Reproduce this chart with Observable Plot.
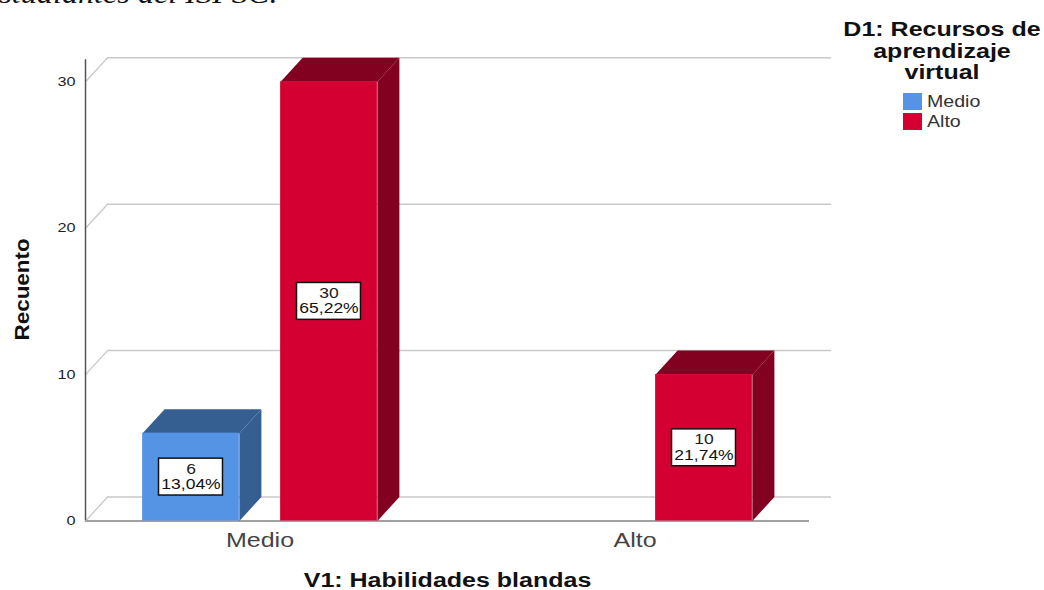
<!DOCTYPE html>
<html><head><meta charset="utf-8">
<script src="https://cdn.jsdelivr.net/npm/d3@7"></script>
<script src="https://cdn.jsdelivr.net/npm/@observablehq/plot@0.6"></script>
<style>
html,body{margin:0;padding:0;background:#fff;overflow:hidden}
#wrap{position:relative;width:1044px;height:590px;overflow:hidden}
#cap{position:absolute;left:-15px;top:-22px;font:italic 28px "Liberation Serif";color:#111;white-space:nowrap;transform:scaleX(1.15);transform-origin:left top}
#leg{position:absolute;left:0;top:0;font-family:"Liberation Sans"}
.lt{position:absolute;left:942px;transform:translateX(-50%) scaleX(1.25);font-weight:bold;font-size:20px;line-height:21px;color:#111;white-space:nowrap}
.li{position:absolute;left:927px;transform:scaleX(1.24);transform-origin:left center;font-size:15.8px;line-height:18px;color:#333;white-space:nowrap}
.sw{position:absolute;left:903px;width:19px;height:17px}
svg text{font-family:"Liberation Sans"}
</style></head><body><div id="wrap"><div id="cap">estudiantes del ISPSC.</div><div id="leg"></div></div>
<script>
const categories = ["Medio", "Alto"];
const series = ["Medio", "Alto"];
const medioValues = [6, null];
const altoValues = [30, 10];
const medioPct = ["13,04%", null];
const altoPct = ["65,22%", "21,74%"];
const yTicks = [0, 10, 20, 30];
const xTitle = "V1: Habilidades blandas";
const yTitle = "Recuento";
const legendTitle = ["D1: Recursos de", "aprendizaje", "virtual"];

const front = {Medio:"#5593e5", Alto:"#d50032"};
const shade = {Medio:"#355e91", Alto:"#820020"};

const barHalf = 0.129, seriesOff = 0.184;
const depthX = 0.0587, depthY = 1.64;
const axisL = -0.4653, axisR = 1.4653, gridR = 1.524;

const bars = [];
categories.forEach((c,i)=>{
  [[series[0],medioValues,medioPct,-1],[series[1],altoValues,altoPct,1]].forEach(([s,vals,pcts,sign])=>{
    if (vals[i]==null) return;
    const cx = i + sign*seriesOff;
    bars.push({s, c, v:vals[i], pct:pcts[i], cx, x1:cx-barHalf, x2:cx+barHalf});
  });
});
const faces = s => bars.filter(b=>b.s===s).flatMap((b,i)=>[
  {id:i+"t",x:b.x1,y:b.v},{id:i+"t",x:b.x1+depthX,y:b.v+depthY},{id:i+"t",x:b.x2+depthX,y:b.v+depthY},{id:i+"t",x:b.x2,y:b.v},
  {id:i+"s",x:b.x2,y:0},{id:i+"s",x:b.x2+depthX,y:depthY},{id:i+"s",x:b.x2+depthX,y:b.v+depthY},{id:i+"s",x:b.x2,y:b.v}
]);
const diag = yTicks.flatMap(t=>[{t,x:axisL,y:t},{t,x:axisL+depthX,y:t+depthY}]);
const boxW = 0.0853, boxH = 1.26;

const plot = Plot.plot({
  width:1044, height:590,
  marginLeft:72, marginRight:222, marginTop:57.3, marginBottom:69.5,
  x:{type:"linear", domain:[-0.5,1.5]},
  y:{domain:[0,31.64]},
  marks:[
    Plot.ruleY(yTicks,{y:t=>t+depthY,x1:axisL+depthX,x2:gridR,stroke:"#c9c9c9",strokeWidth:1.5}),
    Plot.line(diag,{x:"x",y:"y",z:"t",stroke:"#c9c9c9",strokeWidth:1.3}),
    Plot.ruleX([axisL],{y1:0,y2:31.5,stroke:"#555",strokeWidth:1.5}),
    Plot.ruleY([0],{x1:axisL,x2:axisR,stroke:"#a0a0a0",strokeWidth:2}),
    Plot.axisY({ticks:yTicks,tickSize:0,tickPadding:-3,fontSize:13,label:null,color:"#222"}),
    Plot.axisX({ticks:[0,1],tickFormat:i=>categories[i],tickSize:0,tickPadding:12,fontSize:20,label:null,color:"#444"}),
    ...series.map(s=>Plot.line(faces(s),{x:"x",y:"y",z:"id",fill:shade[s],stroke:"none"})),
    Plot.rect(bars,{x1:"x1",x2:"x2",y1:0,y2:"v",fill:d=>front[d.s],inset:0}),
    Plot.rect(bars,{x1:d=>d.cx-boxW,x2:d=>d.cx+boxW,y1:d=>d.v/2-boxH,y2:d=>d.v/2+boxH,fill:"#fff",stroke:"#111",strokeWidth:1.5}),
    Plot.text(bars,{x:"cx",y:d=>d.v/2,text:d=>String(d.v),dy:-8,fontSize:14,fill:"#222"}),
    Plot.text(bars,{x:"cx",y:d=>d.v/2,text:"pct",dy:7.5,fontSize:14,fill:"#111"}),
    Plot.text([xTitle],{frameAnchor:"bottom",dy:66,fontSize:20,fontWeight:"bold",fill:"#111"}),
    Plot.text([yTitle],{frameAnchor:"left",dx:-50,rotate:-90,textAnchor:"middle",fontSize:20,fontWeight:"bold",fill:"#111"})
  ]
});
document.getElementById("wrap").appendChild(plot);
plot.style.position="absolute";plot.style.left="0";plot.style.top="0";plot.style.background="transparent";
document.getElementById("cap").style.zIndex=2;
const leg=document.getElementById("leg");leg.style.zIndex=2;
legendTitle.forEach((t,i)=>{const d=document.createElement("div");d.className="lt";d.textContent=t;d.style.top=(19+i*21.5)+"px";leg.appendChild(d);});
series.forEach((s,i)=>{
  const w=document.createElement("div");w.className="sw";w.style.top=(93+i*20.3)+"px";w.style.background=front[s];leg.appendChild(w);
  const d=document.createElement("div");d.className="li";d.textContent=s;d.style.top=(92.5+i*20.8)+"px";leg.appendChild(d);
});
plot.querySelectorAll("text").forEach(t=>{
  const len=t.getComputedTextLength();
  const rotated=(t.getAttribute("transform")||"").includes("rotate");
  if(len>0){t.setAttribute("textLength",len*(rotated?1.12:1.25));t.setAttribute("lengthAdjust","spacingAndGlyphs");}
});
</script></body></html>
